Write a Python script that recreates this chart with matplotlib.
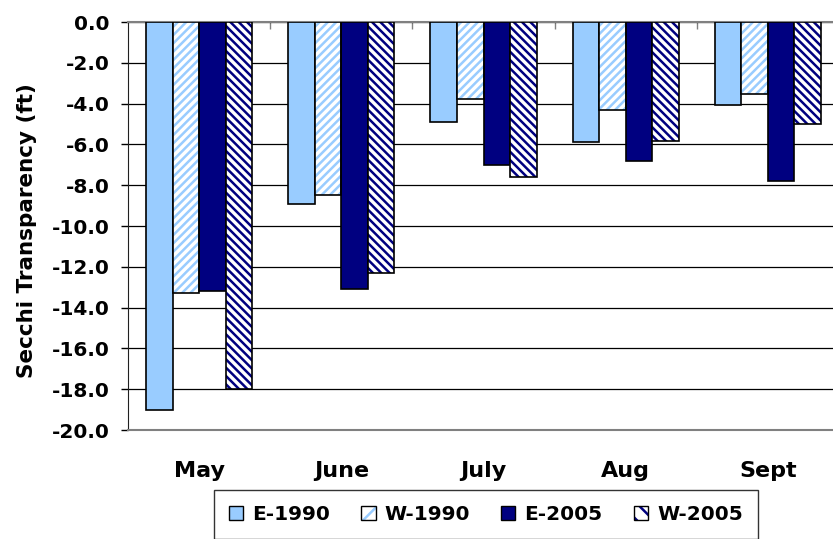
import numpy as np
import matplotlib
matplotlib.use('Agg')
import matplotlib.pyplot as plt
from matplotlib.patches import Patch
from matplotlib.legend_handler import HandlerTuple

months = ['May', 'June', 'July', 'Aug', 'Sept']
series = ['E-1990', 'W-1990', 'E-2005', 'W-2005']
e1990 = [-19.0, -8.9, -4.9, -5.9, -4.05]
w1990 = [-13.3, -8.5, -3.75, -4.3, -3.55]
e2005 = [-13.2, -13.1, -7.0, -6.8, -7.8]
w2005 = [-18.0, -12.3, -7.6, -5.85, -5.0]

light = '#99CCFF'
navy = '#000080'

plt.rcParams['font.family'] = ['DejaVu Sans']
plt.rcParams['font.weight'] = 'bold'
plt.rcParams['hatch.linewidth'] = 1.8

fig = plt.figure(figsize=(8.33, 5.39), dpi=100)
ax = fig.add_axes([128/833, 109/539, 711/833, 408/539])

x = np.arange(len(months))
w = 0.187
offs = [-1.5*w, -0.5*w, 0.5*w, 1.5*w]

# (values, face, hatch colour, hatch for bars, hatch for legend box)
styles = [(e1990, light, None, None, None),
          (w1990, 'white', light, '////', '//'),
          (e2005, navy, None, None, None),
          (w2005, 'white', navy, '\\\\\\\\', '\\\\')]

handles = []
for (vals, face, hc, hatch, lhatch), off in zip(styles, offs):
    if hatch is None:
        ax.bar(x + off, vals, w, color=face, edgecolor='black', linewidth=1.2, zorder=3)
        handles.append(Patch(facecolor=face, edgecolor='black', linewidth=1.0))
    else:
        ax.bar(x + off, vals, w, color='white', edgecolor=hc, hatch=hatch, linewidth=0, zorder=3)
        ax.bar(x + off, vals, w, fill=False, edgecolor='black', linewidth=1.2, zorder=4)
        handles.append((Patch(facecolor='white', edgecolor=hc, hatch=lhatch, linewidth=0),
                        Patch(fill=False, edgecolor='black', linewidth=1.0)))

ax.set_ylim(-20, 0)
ax.set_xlim(-0.5, 4.5)
ax.set_yticks(np.arange(-20, 0.1, 2))
ax.set_yticklabels(['%.1f' % v for v in np.arange(-20, 0.1, 2)], fontsize=14.5, fontweight='bold')
ax.yaxis.grid(True, color='black', linewidth=0.9)
ax.set_axisbelow(True)

ax.set_xticks(x)
ax.set_xticklabels(months, fontsize=16, fontweight='bold')
ax.tick_params(axis='x', which='major', length=0, pad=22)
ax.set_xticks([0.5, 1.5, 2.5, 3.5], minor=True)
ax.tick_params(axis='x', which='minor', top=True, bottom=False, direction='in',
               length=5, color='#808080', width=1)
ax.tick_params(axis='y', length=5, width=1, pad=8)

for s in ['top', 'bottom']:
    ax.spines[s].set_color('#808080')
    ax.spines[s].set_linewidth(1.5)
ax.spines['right'].set_visible(False)
ax.spines['left'].set_color('#202020')

ax.set_ylabel('Secchi Transparency (ft)', fontsize=15.5, fontweight='bold')
ax.yaxis.set_label_coords(-91/711, 0.488)

leg = fig.legend(handles, series, loc='upper center', bbox_to_anchor=(486/833, 1 - 490/539), ncol=4,
                 frameon=True, fancybox=False, edgecolor='black', fontsize=14.5,
                 handlelength=0.7, handleheight=0.7, handletextpad=0.45, columnspacing=1.55,
                 borderpad=0.75, borderaxespad=0,
                 handler_map={tuple: HandlerTuple(ndivide=1)})
leg.get_frame().set_linewidth(1.0)
for t in leg.get_texts():
    t.set_fontweight('bold')

fig.savefig('out.png', dpi=100)
